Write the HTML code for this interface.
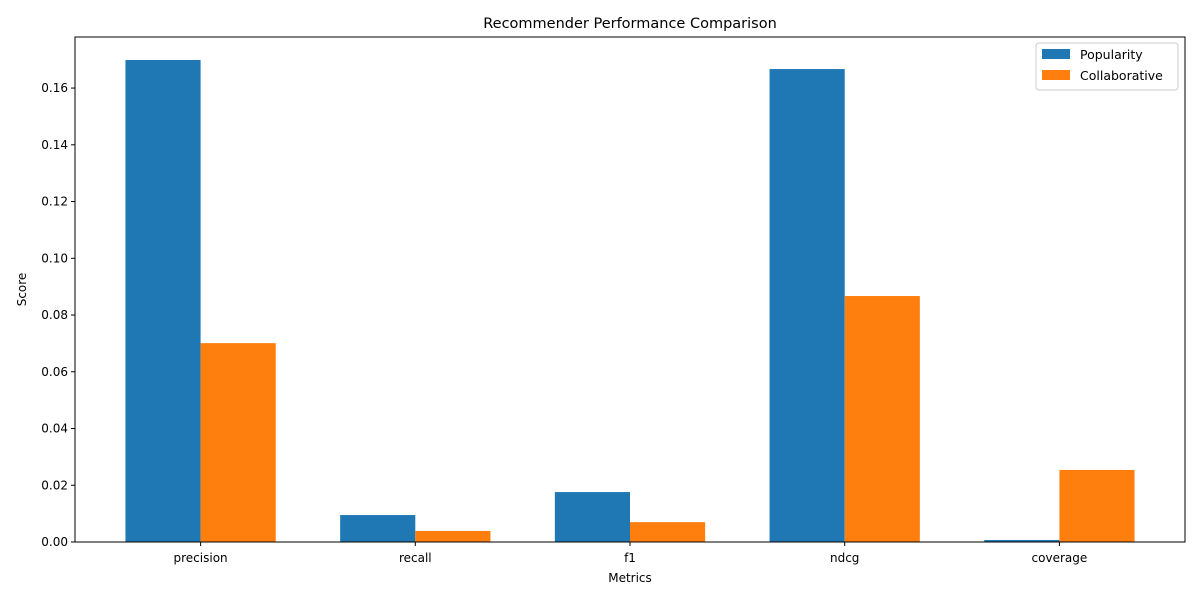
<!DOCTYPE html>
<html><head><meta charset="utf-8"><style>
body{margin:0;background:#fff;font-family:"Liberation Sans","DejaVu Sans",sans-serif}
svg text{font-family:"DejaVu Sans","Liberation Sans",sans-serif;fill:#000}
</style></head><body>
<svg id="c" width="1200" height="600"></svg>
<script>
const categories=["precision","recall","f1","ndcg","coverage"];
const popularity=[0.1699,0.0095,0.0176,0.1667,0.0007];
const collaborative=[0.0701,0.0039,0.0070,0.0867,0.0254];
const yTicks=[0,0.02,0.04,0.06,0.08,0.10,0.12,0.14,0.16];
const yTickLabels=["0.00","0.02","0.04","0.06","0.08","0.10","0.12","0.14","0.16"];
const L=75,R=1185,T=37,B=542,yMax=0.178;
const bw=0.35,xmin=-0.35-0.235,xmax=4.35+0.235;
const X=v=>L+(v-xmin)/(xmax-xmin)*(R-L);
const Y=v=>B-v/yMax*(B-T);
const svg=document.getElementById('c');
const NS="http://www.w3.org/2000/svg";
function mk(t,a,txt){const e=document.createElementNS(NS,t);for(const k in a)e.setAttribute(k,a[k]);if(txt!==undefined)e.textContent=txt;svg.appendChild(e);return e;}
categories.forEach((c,i)=>{
 let b=mk('rect',{x:X(i-bw),y:Y(popularity[i]),width:X(i)-X(i-bw),height:B-Y(popularity[i]),fill:'#1f77b4'});
 
 
 let b2=mk('rect',{x:X(i),y:Y(collaborative[i]),width:X(i+bw)-X(i),height:B-Y(collaborative[i]),fill:'#ff7f0e'});
 
 
 mk('line',{x1:X(i),x2:X(i),y1:B,y2:B+4,stroke:'#000'});
 let t=mk('text',{x:X(i),y:B+20,'text-anchor':'middle','font-size':12},c);
 
 
});
yTicks.forEach((v,i)=>{
 mk('line',{x1:L-4,x2:L,y1:Y(v),y2:Y(v),stroke:'#000'});
 let t=mk('text',{x:L-7,y:Y(v)+4,'text-anchor':'end','font-size':12},yTickLabels[i]);
 
 
});
let f=mk('rect',{x:L,y:T,width:R-L,height:B-T,fill:'none',stroke:'#000','stroke-width':1});


let tt=mk('text',{x:(L+R)/2,y:T-9,'text-anchor':'middle','font-size':14.5},'Recommender Performance Comparison');


let xt=mk('text',{x:(L+R)/2,y:582,'text-anchor':'middle','font-size':12},'Metrics');


let yt=mk('text',{x:0,y:0,'text-anchor':'middle','font-size':12,transform:`translate(26,${(T+B)/2}) rotate(-90)`},'Score');


let lg=mk('rect',{x:1036,y:43,width:142,height:47,fill:'#fff',stroke:'#ccc',rx:3});


[['Popularity','#1f77b4',56],['Collaborative','#ff7f0e',77]].forEach(([n,col,y])=>{
 mk('rect',{x:1042,y:y-7,width:28,height:10,fill:col});
 let t=mk('text',{x:1080,y:y+3,'font-size':12.5},n);
 
 
});
</script>
</body></html>
